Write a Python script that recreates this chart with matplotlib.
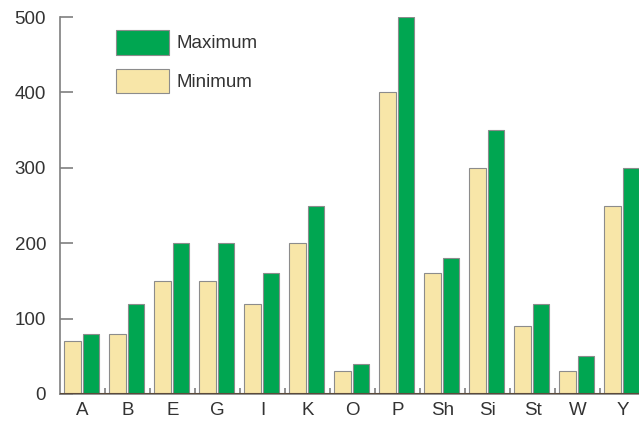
import matplotlib.pyplot as plt
import numpy as np

categories = ['A', 'B', 'E', 'G', 'I', 'K', 'O', 'P', 'Sh', 'Si', 'St', 'W', 'Y']
minimum = [70, 80, 150, 150, 120, 200, 30, 400, 160, 300, 90, 30, 250]
maximum = [80, 120, 200, 200, 160, 250, 40, 500, 180, 350, 120, 50, 300]

yellow = '#F8E6A8'
green = '#00A651'
edge = '#8c8c8c'
axis_grey = '#7f7f7f'

plt.rcParams['font.family'] = ['Liberation Sans', 'DejaVu Sans']

fig = plt.figure(figsize=(6.39, 4.21), dpi=100)
# axes runs slightly past the right edge, like the cropped original
ax = fig.add_axes([60 / 639, 27 / 421, 585 / 639, 377 / 421])

x = np.arange(len(categories))
w = 0.37
ax.bar(x + 0.28, minimum, width=w, color=yellow, edgecolor=edge, linewidth=0.8, label='Minimum')
ax.bar(x + 0.69, maximum, width=w, color=green, edgecolor=edge, linewidth=0.8, label='Maximum')
ax.axhline(0, color='#5b4a3a', linewidth=1.5, zorder=3)

ax.set_xlim(0, len(categories))
ax.set_ylim(0, 500)

for side in ['top', 'right']:
    ax.spines[side].set_visible(False)
ax.spines['left'].set_color(axis_grey)
ax.spines['left'].set_linewidth(1.2)
ax.spines['bottom'].set_color(axis_grey)
ax.spines['bottom'].set_linewidth(1.2)

ax.set_yticks([0, 100, 200, 300, 400, 500])
ax.tick_params(axis='y', direction='in', length=9, width=1.2, color=axis_grey,
               labelsize=13.5, pad=10, labelcolor='#333333')

ax.set_xticks(x + 0.5)
ax.set_xticklabels(categories)
ax.set_xticks(np.arange(1, len(categories)), minor=True)
ax.tick_params(axis='x', which='major', length=0, labelsize=13.5, pad=6, labelcolor='#333333')
ax.tick_params(axis='x', which='minor', direction='in', length=4, width=1.2, color=axis_grey)

handles, labels = ax.get_legend_handles_labels()
fig.legend(handles[::-1], labels[::-1], loc='upper left',
           bbox_to_anchor=(116 / 639, 1 - 30 / 421), frameon=False,
           fontsize=13.5, handlelength=2.8, handleheight=1.65, labelspacing=0.75,
           handletextpad=0.45, borderpad=0, borderaxespad=0, labelcolor='#333333')

fig.savefig('out.png', dpi=100)
